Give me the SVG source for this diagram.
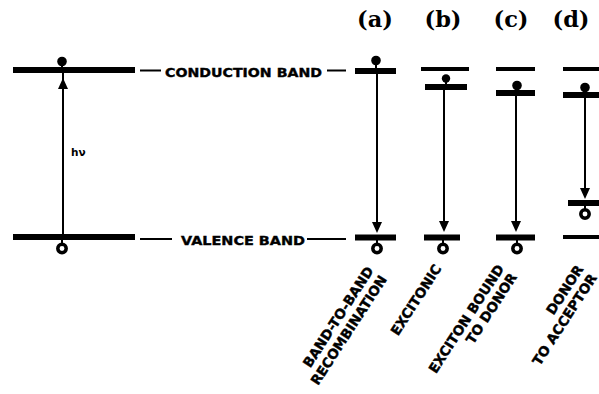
<svg xmlns="http://www.w3.org/2000/svg" width="599" height="394" viewBox="0 0 599 394">
<style>
.band{stroke:#000;stroke-width:6;fill:none}
.thin{stroke:#000;stroke-width:4;fill:none}
.dash{stroke:#000;stroke-width:2;fill:none}
.tr{stroke:#000;stroke-width:2;fill:none}
.head{fill:#000}
.e{fill:#000}
.h{fill:#fff;stroke:#000;stroke-width:3.5}
.lbl{font-family:"DejaVu Sans",sans-serif;font-weight:bold;font-size:13px;fill:#000;stroke:#000;stroke-width:0.4}
.rot{font-family:"DejaVu Sans",sans-serif;font-weight:bold;font-size:13.5px;fill:#000;stroke:#000;stroke-width:0.4;text-anchor:end}
.cap{font-family:"DejaVu Serif","Liberation Serif",serif;font-weight:bold;font-size:22.5px;fill:#000;text-anchor:middle}
</style>
<rect width="599" height="394" fill="#fff"/>
<g id="main">
<line class="band" x1="13" y1="70" x2="135" y2="70"/>
<line class="band" x1="13" y1="237" x2="135" y2="237"/>
<line class="tr" x1="63" y1="237" x2="63" y2="72"/>
<polygon class="head" points="63,78 58,89 68,89"/>
<line class="tr" x1="62" y1="62" x2="62" y2="70"/>
<circle class="e" cx="62" cy="61.5" r="4.8"/>
<line class="tr" x1="62" y1="237" x2="62" y2="244"/>
<circle class="h" cx="62" cy="248.5" r="4.2"/>
<text x="71" y="156" font-family="DejaVu Sans,sans-serif" font-weight="bold" font-size="10.5">hν</text>
</g>
<g id="band-labels">
<line class="dash" x1="140" y1="70.5" x2="161" y2="70.5"/>
<text class="lbl" x="165" y="76.5" textLength="157" lengthAdjust="spacingAndGlyphs">CONDUCTION BAND</text>
<line class="dash" x1="327" y1="70.5" x2="346" y2="70.5"/>
<line class="dash" x1="140" y1="239" x2="172" y2="239"/>
<text class="lbl" x="181" y="245" textLength="124" lengthAdjust="spacingAndGlyphs">VALENCE BAND</text>
<line class="dash" x1="307" y1="239" x2="346" y2="239"/>
</g>
<g id="col-a">
<text class="cap" x="375" y="27">(a)</text>
<line class="band" x1="355" y1="71" x2="396" y2="71"/>
<line class="tr" x1="376" y1="61" x2="376" y2="71"/>
<circle class="e" cx="376" cy="60.5" r="4.8"/>
<line class="tr" x1="377" y1="73" x2="377" y2="224"/>
<polygon class="head" points="377,233 372,222 382,222"/>
<line class="band" x1="355" y1="237.5" x2="396" y2="237.5"/>
<line class="tr" x1="377" y1="237" x2="377" y2="244"/>
<circle class="h" cx="377" cy="248.5" r="4.2"/>
<g class="rot" transform="translate(374,270.5) rotate(-57)">
<text x="0" y="0">BAND-TO-BAND</text>
<text x="0" y="16">RECOMBINATION</text>
</g>
</g>
<g id="col-b">
<text class="cap" x="443" y="27">(b)</text>
<line class="thin" x1="421" y1="69" x2="469" y2="69"/>
<line class="band" x1="425" y1="87" x2="467" y2="87"/>
<line class="tr" x1="446" y1="78" x2="446" y2="87"/>
<circle class="e" cx="446" cy="78.5" r="4.2"/>
<line class="tr" x1="444" y1="89" x2="444" y2="222"/>
<polygon class="head" points="444,232 439,221 449,221"/>
<line class="band" x1="424" y1="237.5" x2="460" y2="237.5"/>
<line class="tr" x1="443" y1="237" x2="443" y2="244"/>
<circle class="h" cx="443" cy="248.5" r="4.2"/>
<g class="rot" transform="translate(442,268.5) rotate(-57)">
<text x="0" y="0">EXCITONIC</text>
</g>
</g>
<g id="col-c">
<text class="cap" x="511" y="27">(c)</text>
<line class="thin" x1="496" y1="69" x2="535" y2="69"/>
<line class="band" x1="496" y1="93" x2="535" y2="93"/>
<line class="tr" x1="517" y1="86" x2="517" y2="93"/>
<circle class="e" cx="517" cy="85.5" r="4.8"/>
<line class="tr" x1="516" y1="95" x2="516" y2="222"/>
<polygon class="head" points="516,232 511,221 521,221"/>
<line class="band" x1="496" y1="237.5" x2="535" y2="237.5"/>
<line class="tr" x1="517" y1="237" x2="517" y2="244"/>
<circle class="h" cx="517" cy="248.5" r="4.2"/>
<g class="rot" transform="translate(504.5,268.5) rotate(-57)">
<text x="0" y="0">EXCITON BOUND</text>
<text x="0" y="15.5">TO DONOR</text>
</g>
</g>
<g id="col-d">
<text class="cap" x="571" y="27">(d)</text>
<line class="thin" x1="563" y1="69" x2="599" y2="69"/>
<line class="band" x1="563" y1="95" x2="599" y2="95"/>
<line class="tr" x1="585" y1="88" x2="585" y2="95"/>
<circle class="e" cx="585" cy="87.5" r="4.8"/>
<line class="tr" x1="585" y1="97" x2="585" y2="190"/>
<polygon class="head" points="585,199 580,188 590,188"/>
<line class="band" x1="568" y1="203" x2="599" y2="203"/>
<line class="tr" x1="585" y1="203" x2="585" y2="210"/>
<circle class="h" cx="585" cy="214" r="4.2"/>
<line class="thin" x1="563" y1="237" x2="599" y2="237"/>
<g class="rot" transform="translate(584,269) rotate(-57)">
<text x="0" y="0">DONOR</text>
<text x="0" y="16">TO ACCEPTOR</text>
</g>
</g>
</svg>
